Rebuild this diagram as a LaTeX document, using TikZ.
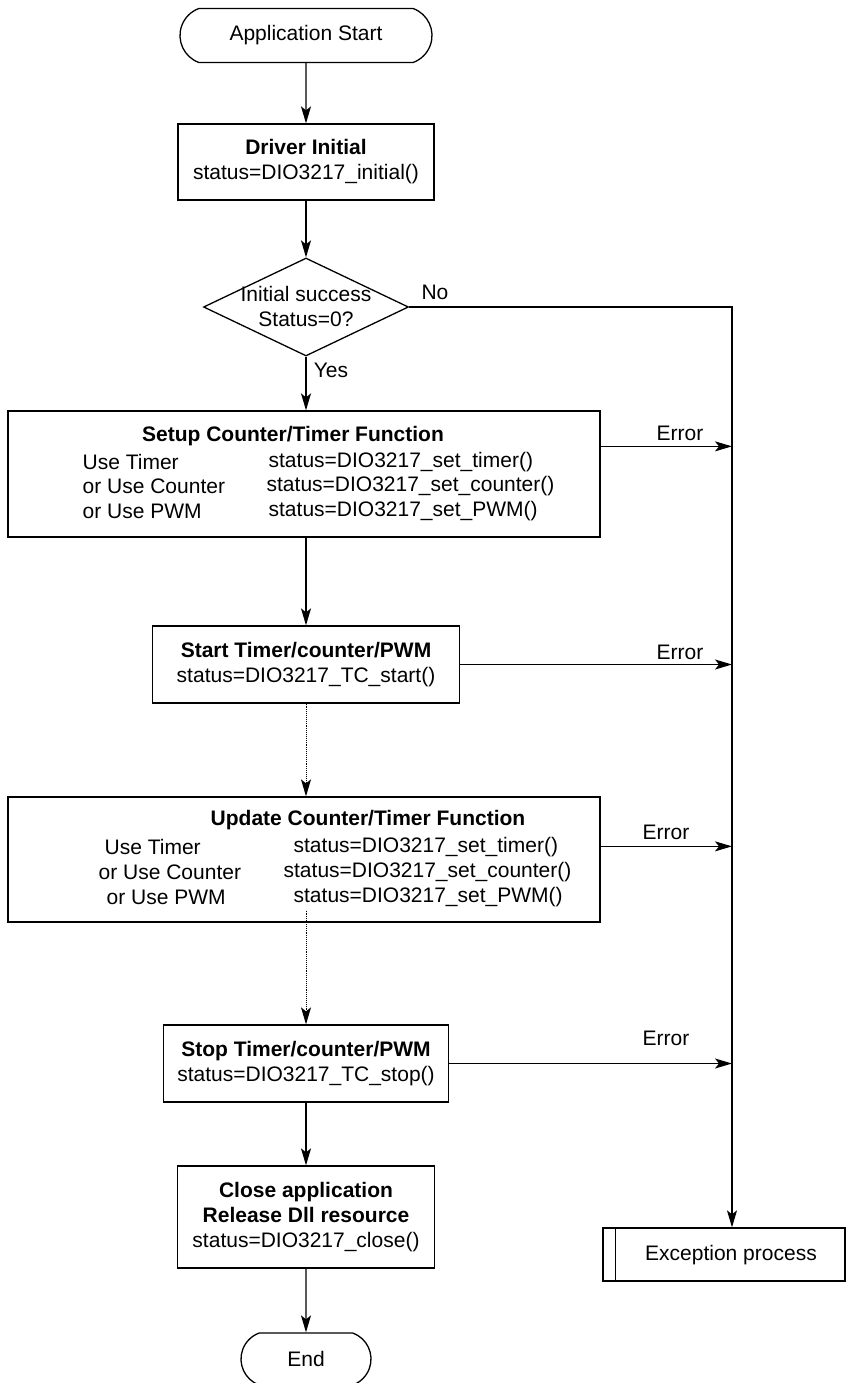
\documentclass[tikz,border=0pt]{standalone}
\usepackage{fontspec}
\setmainfont{Liberation Sans}
\usetikzlibrary{arrows.meta,shapes.geometric,shapes.misc}
\begin{document}
\begin{tikzpicture}[x=1pt,y=-1pt,
  font=\fontsize{21}{25}\selectfont,
  line width=1.3pt,
  box/.style={draw, rectangle, inner sep=0pt, align=center},
  term/.style={draw, rounded rectangle, rounded rectangle arc length=140, inner sep=0pt},
  arr/.style={-{Stealth[length=17pt,width=10pt,inset=4pt]}},
  dotarr/.style={densely dotted, line width=0.9pt, -{Stealth[length=17pt,width=10pt,inset=4pt,line width=1.3pt]}},
  txt/.style={inner sep=0pt, anchor=west},
  lbl/.style={inner sep=0pt}]
\useasboundingbox (0,0) rectangle (846,1383);

% terminals and boxes
\node[term, minimum width=252pt, minimum height=54pt] (start) at (306,35.5) {Application Start};
\node[box, minimum width=256pt, minimum height=76pt] (drv) at (306,162) {\textbf{Driver Initial}\\status=DIO3217\_initial()};
\node[draw, diamond, minimum width=205pt, minimum height=98pt, inner sep=0pt] (dec) at (306,307) {};
\node[lbl, align=center] (dect) at (306,306) {Initial success\\Status=0?};

\node[box, minimum width=592pt, minimum height=126pt] (setup) at (304,474) {};
\node[lbl] (setupt) at (293,436) {\textbf{Setup Counter/Timer Function}};
\node[txt] (sa1) at (82,462) {Use Timer};
\node[txt] (sa2) at (82,486) {or Use Counter};
\node[txt] (sa3) at (82,511) {or Use PWM};
\node[txt] (sb1) at (268,462) {status=DIO3217\_set\_timer()};
\node[txt] (sb2) at (266,486) {status=DIO3217\_set\_counter()};
\node[txt] (sb3) at (268,511) {status=DIO3217\_set\_PWM()};

\node[box, minimum width=307pt, minimum height=77pt] (startb) at (306,664.5) {\textbf{Start Timer/counter/PWM}\\status=DIO3217\_TC\_start()};

\node[box, minimum width=592pt, minimum height=125pt] (upd) at (304,859.5) {};
\node[lbl] (updt) at (368,820) {\textbf{Update Counter/Timer Function}};
\node[txt] (ua1) at (104,847) {Use Timer};
\node[txt] (ua2) at (98,872) {or Use Counter};
\node[txt] (ua3) at (106,897) {or Use PWM};
\node[txt] (ub1) at (293,847) {status=DIO3217\_set\_timer()};
\node[txt] (ub2) at (283,872) {status=DIO3217\_set\_counter()};
\node[txt] (ub3) at (293,897) {status=DIO3217\_set\_PWM()};

\node[box, minimum width=285pt, minimum height=77pt] (stop) at (306,1063.5) {\textbf{Stop Timer/counter/PWM}\\status=DIO3217\_TC\_stop()};
\node[box, minimum width=257pt, minimum height=102pt] (close) at (306,1217) {\textbf{Close application}\\\textbf{Release Dll resource}\\status=DIO3217\_close()};
\node[term, minimum width=130pt, minimum height=52pt] (endn) at (306,1359) {End};

\node[box, minimum width=242pt, minimum height=53pt] (exc) at (724,1254.5) {};
\node[lbl] (exct) at (731,1255) {Exception process};
\draw ([xshift=13pt]exc.north west) -- ([xshift=13pt]exc.south west);

% connectors
\coordinate (j1) at (732,307);
\draw[arr] (start) -- (drv);
\draw[arr] (drv) -- (dec);
\draw[arr] (dec.south) -- (dec.south |- setup.north);
\draw[arr] (startb.north |- setup.south) -- (startb.north);
\draw[dotarr] (startb.south) -- (startb.south |- upd.north);
\coordinate (d2) at ([yshift=12pt]upd.south -| stop.north);
\draw[dotarr] (d2) -- (stop.north);
\draw[arr] (stop) -- (close);
\draw[arr] (close) -- (endn);
\draw[arr] (dec.east) -- (j1) -- (j1 |- exc.north);

\node[lbl] (no) at (435,292) {No};
\node[lbl] (yes) at (331,370) {Yes};

\coordinate (e1) at ([yshift=-36pt]setup.north east);
\draw[arr] (e1) -- (e1 -| j1);
\node[lbl] (err1) at (680,433) {Error};
\draw[arr] (startb.east) -- (startb.east -| j1);
\node[lbl] (err2) at (680,652) {Error};
\coordinate (e3) at ([yshift=-50pt]upd.north east);
\draw[arr] (e3) -- (e3 -| j1);
\node[lbl] (err3) at (666,832) {Error};
\draw[arr] (stop.east) -- (stop.east -| j1);
\node[lbl] (err4) at (666,1038) {Error};
\end{tikzpicture}
\end{document}
